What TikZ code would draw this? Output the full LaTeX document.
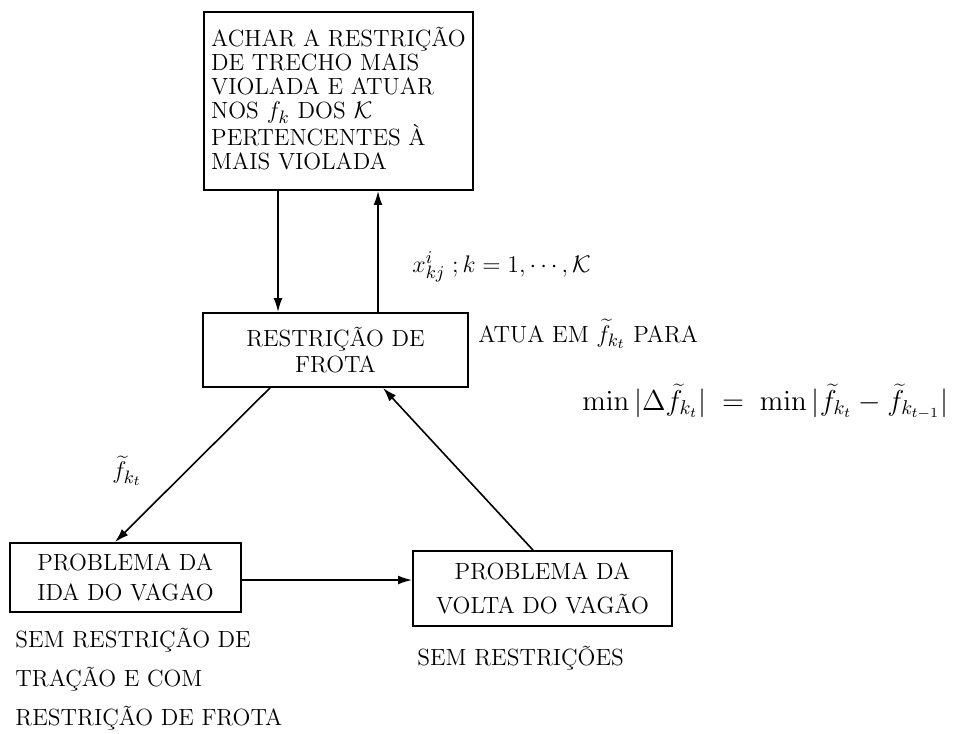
\documentclass[tikz,border=0pt]{standalone}
\usetikzlibrary{arrows.meta}
\newcommand{\lgmath}[1]{{\fontsize{13.2}{15}\selectfont$#1$}}
\newcommand{\hgmath}[1]{{\fontsize{13.6}{15}\selectfont$#1$}}
\begin{document}
\begin{tikzpicture}[x=0.5pt,y=-0.5pt,
  box/.style={draw,line width=0.9pt,inner sep=0pt},
  conn/.style={line width=0.8pt,-{Latex[length=7pt,width=4.4pt]}},
  lbl/.style={inner sep=0pt,anchor=base west,font=\fontsize{11.7}{13}\selectfont}]
\useasboundingbox (0,0) rectangle (956,733);

% boxes
\node[box,align=left,minimum width=134.5pt,minimum height=89pt,
      font=\fontsize{11.7}{12.6}\selectfont] (search) at (338.5,101)
  {ACHAR A RESTRIÇÃO\\[-0.5pt]DE TRECHO MAIS\\[-0.5pt]VIOLADA E ATUAR\\[-0.5pt]
   NOS\hspace{4pt}\lgmath{f_k}\hspace{4pt}DOS\hspace{4pt}\lgmath{\mathcal{K}}\\[-0.5pt]
   PERTENCENTES À\\[-0.5pt]MAIS VIOLADA\\[-10pt]{}};
\node[box,align=center,minimum width=132.5pt,minimum height=37pt,
      font=\fontsize{11.7}{13}\selectfont] (fleet) at (335.5,350)
  {RESTRIÇÃO DE\\FROTA};
\node[box,align=left,minimum width=115.5pt,minimum height=34.5pt,
      font=\fontsize{11.7}{15}\selectfont] (outbound) at (125.5,577.5)
  {PROBLEMA DA\\IDA DO VAGAO};
\node[box,align=center,minimum width=129.5pt,minimum height=37.5pt,
      font=\fontsize{11.7}{17}\selectfont] (return) at (542.5,588.5)
  {PROBLEMA DA\\VOLTA DO VAGÃO};

% connector positions
\coordinate (xdown) at (278,0);
\coordinate (xup) at (378,0);
\coordinate (xlo) at (270,0);
\coordinate (xli) at (115,0);
\coordinate (xro) at (533,0);
\coordinate (xri) at (383,0);
\coordinate (yh) at (0,580);

\draw[conn] (search.south -| xdown) -- (fleet.north -| xdown);
\draw[conn] (fleet.north -| xup) -- (search.south -| xup);
\draw[conn] (fleet.south -| xlo) -- (outbound.north -| xli);
\draw[conn] (return.north -| xro) -- (fleet.south -| xri);
\draw[conn] (outbound.east |- yh) -- (return.west |- yh);

% labels
\node[lbl] (xlab) at (412,272) {\lgmath{x^{i}_{kj}\;; k=1,\cdots,\mathcal{K}}};
\node[lbl] (acts) at (478,342) {ATUA EM \lgmath{\widetilde{f}_{k_t}} PARA};
\node[lbl] (minf) at (582,410)
  {\hgmath{\min|\Delta\widetilde{f}_{k_t}| \;=\; \min|\widetilde{f}_{k_t}-\widetilde{f}_{k_{t-1}}|}};
\node[inner sep=0pt] (flab) at (127,471) {\lgmath{\widetilde{f}_{k_t}}};
\node[lbl] (n1) at (15,647) {SEM RESTRIÇÃO DE};
\node[lbl] (n2) at (15,686) {TRAÇÃO E COM};
\node[lbl] (n3) at (15,725) {RESTRIÇÃO DE FROTA};
\node[lbl] (n4) at (417,665) {SEM RESTRIÇÕES};
\end{tikzpicture}
\end{document}
